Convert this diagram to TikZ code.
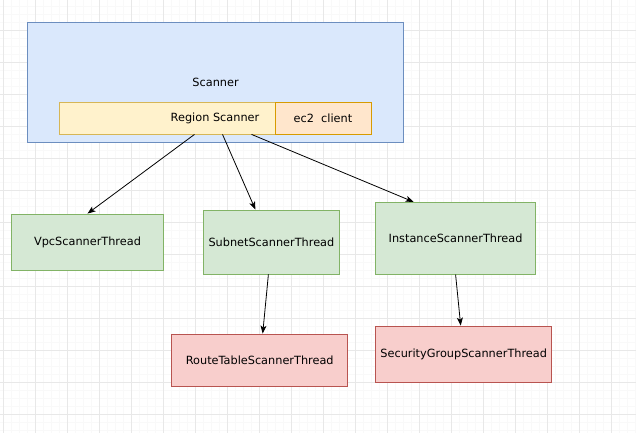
\documentclass[tikz,border=0pt]{standalone}
\usepackage{fontspec}
\setmainfont{DejaVu Sans}
\usetikzlibrary{arrows.meta, positioning}

\definecolor{scanfill}{HTML}{DAE8FC}
\definecolor{scanline}{HTML}{6C8EBF}
\definecolor{regionfill}{HTML}{FFF2CC}
\definecolor{regionline}{HTML}{D6B656}
\definecolor{clientfill}{HTML}{FFE6CC}
\definecolor{clientline}{HTML}{D79B00}
\definecolor{threadfill}{HTML}{D5E8D4}
\definecolor{threadline}{HTML}{82B366}
\definecolor{subfill}{HTML}{F8CECC}
\definecolor{subline}{HTML}{B85450}
\definecolor{gridmajor}{HTML}{E8E8E8}
\definecolor{gridminor}{HTML}{F9F9F9}

\begin{document}
\begin{tikzpicture}[x=1pt, y=-1pt, >={Stealth[length=8pt, width=6pt, inset=2pt]},
    font=\fontsize{11.3}{13}\selectfont]
  \tikzstyle{block} = [draw, rectangle, inner sep=0pt, line width=0.8pt]
  \tikzstyle{scan} = [block, fill=scanfill, draw=scanline]
  \tikzstyle{region} = [block, fill=regionfill, draw=regionline]
  \tikzstyle{client} = [block, fill=clientfill, draw=clientline]
  \tikzstyle{thread} = [block, fill=threadfill, draw=threadline]
  \tikzstyle{subthread} = [block, fill=subfill, draw=subline]
  \tikzstyle{link} = [->, line width=0.8pt]
  \useasboundingbox (0,0) rectangle (636,433);
  \fill[white] (0,0) rectangle (636,433);

  % background grid
  \foreach \gx in {3.5,11.5,...,636} \draw[gridminor, line width=0.5pt] (\gx,0) -- (\gx,433);
  \foreach \gy in {6,14,...,433} \draw[gridminor, line width=0.5pt] (0,\gy) -- (636,\gy);
  \foreach \gx in {3.5,35.5,...,636} \draw[gridmajor, line width=0.8pt] (\gx,0) -- (\gx,433);
  \foreach \gy in {30,62,...,433} \draw[gridmajor, line width=0.8pt] (0,\gy) -- (636,\gy);

  \node [scan, minimum width=376pt, minimum height=120pt] (scanner) at (215.6,82) {Scanner};
  \node [region, minimum width=312pt, minimum height=32pt] (region) at (215,118) {Region Scanner};
  \node [client, minimum width=96pt, minimum height=32pt, anchor=east] (client) at (region.east) {ec2\ \ client};

  \node [thread, minimum width=152pt, minimum height=56pt] (vpc) at (87.5,242) {VpcScannerThread};
  \node [thread, minimum width=136pt, minimum height=64pt] (subnet) at (271.4,242) {SubnetScannerThread};
  \node [thread, minimum width=160pt, minimum height=72pt] (instance) at (455.6,238.3) {InstanceScannerThread};
  \node [subthread, minimum width=176pt, minimum height=52pt] (route) at (259.7,360) {RouteTableScannerThread};
  \node [subthread, minimum width=176pt, minimum height=56pt] (secgroup) at (463.7,354) {SecurityGroupScannerThread};

  \draw [link] ([xshift=-20.5pt]region.south) -- (vpc.north);
  \draw [link] ([xshift=7.5pt]region.south) -- ([xshift=-16pt]subnet.north);
  \draw [link] ([xshift=36.5pt]region.south) -- ([xshift=-42pt]instance.north);
  \draw [link] ([xshift=-3pt]subnet.south) -- ([xshift=3pt]route.north);
  \draw [link] (instance.south) -- ([xshift=-3pt]secgroup.north);
\end{tikzpicture}
\end{document}
